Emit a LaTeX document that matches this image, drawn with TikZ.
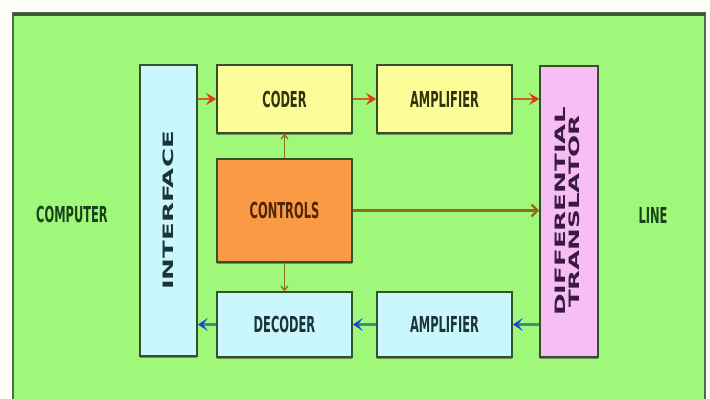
\documentclass[tikz,border=0pt]{standalone}
\usepackage{fontspec}
\setmainfont{DejaVu Sans}
\usepackage{graphicx}
\usetikzlibrary{arrows.meta, shadows}

\definecolor{pagewhite}{HTML}{FCFDF8}
\definecolor{panelgreen}{HTML}{A0F87A}
\definecolor{paneledge}{HTML}{4E6C46}
\definecolor{boxedge}{HTML}{34522A}
\definecolor{lightcyan}{HTML}{C9F7FC}
\definecolor{lightyellow}{HTML}{FCFC98}
\definecolor{ctrlorange}{HTML}{FB9A44}
\definecolor{lightpink}{HTML}{F7BDF5}
\definecolor{sidegreen}{HTML}{1A421A}
\definecolor{olivetext}{HTML}{33330E}
\definecolor{browntext}{HTML}{502604}
\definecolor{slatetext}{HTML}{1A343A}
\definecolor{purpletext}{HTML}{3A1A40}
\definecolor{fwdline}{HTML}{CC6428}
\definecolor{fwdtip}{HTML}{E8301A}
\definecolor{backline}{HTML}{3F8F86}
\definecolor{backtip}{HTML}{2040E0}
\definecolor{ctrlline}{HTML}{8C6A1E}

% squeezed text, as in the picture
\newcommand{\narrowtext}[1]{\scalebox{0.52}[1]{#1}}
\newcommand{\flattext}[1]{\scalebox{1}[0.55]{#1}}

\tikzset{
	block/.style={draw=boxedge, line width=1.8pt, inner sep=0pt,
		minimum width=135pt, minimum height=68pt,
		drop shadow={shadow xshift=0pt, shadow yshift=-2pt, fill=black!70, opacity=.6},
		font=\fontsize{22}{24}\selectfont\bfseries}
}
\tikzset{
	tallblock/.style={block, minimum width=57pt, minimum height=291pt,
		font=\fontsize{26}{22}\selectfont\bfseries}
}
\tikzset{
	sidetext/.style={font=\fontsize{22}{24}\selectfont\bfseries, text=sidegreen}
}
\tikzset{
	fwdarrow/.style={draw=fwdline, line width=2.6pt,
		-{Stealth[length=10pt, width=12pt, inset=4pt, color=fwdtip]}},
	backarrow/.style={draw=backline, line width=3.2pt,
		-{Stealth[length=10pt, width=13pt, inset=5pt, color=backtip]}},
	ctrlarrow/.style={draw=ctrlline, line width=1.3pt,
		-{Straight Barb[length=4pt, width=7pt]}}
}

\begin{document}
\begin{tikzpicture}[x=1pt, y=-1pt]
      \useasboundingbox (0,0) rectangle (710,399);
      \fill[pagewhite] (0,0) rectangle (710,399);

      % green panel, running off the bottom
      \fill[panelgreen] (13,13) rectangle (705,399);
      \draw[paneledge, line width=1.4pt] (13,399) -- (13,13) -- (705,13) -- (705,399);
      \draw[paneledge!80!black, line width=3pt] (13,14) -- (705,14);

      % blocks
      \node[tallblock, fill=lightcyan, text=slatetext] (interface) at (168.5,210.5)
        {\rotatebox{90}{\flattext{INTERFACE}}};
      \node[tallblock, fill=lightpink, text=purpletext, minimum width=58pt] (translator) at (569,211.5)
        {\rotatebox{90}{\flattext{\begin{tabular}{@{}c@{}}DIFFERENTIAL\\TRANSLATOR\end{tabular}}}};
      \node[block, fill=lightyellow, text=olivetext] (coder) at (284.5,99) {\narrowtext{CODER}};
      \node[block, fill=lightyellow, text=olivetext] (txamp) at (444.5,99) {\narrowtext{AMPLIFIER}};
      \node[block, fill=ctrlorange, text=browntext, minimum height=103pt] (controls) at (284.5,210.5)
        {\narrowtext{CONTROLS}};
      \node[block, fill=lightcyan, text=slatetext, minimum height=65pt] (decoder) at (284.5,324.5)
        {\narrowtext{DECODER}};
      \node[block, fill=lightcyan, text=slatetext, minimum height=65pt] (rxamp) at (444.5,324.5)
        {\narrowtext{AMPLIFIER}};

      % the two ends
      \node[sidetext] (computer) at (72,214) {\narrowtext{COMPUTER}};
      \node[sidetext] (line) at (653,215) {\narrowtext{LINE}};

      % sending path
      \draw[fwdarrow] (interface.east |- coder.west) -- (coder.west);
      \draw[fwdarrow] (coder.east) -- (txamp.west);
      \draw[fwdarrow] (txamp.east) -- (txamp.east -| translator.west);

      % receiving path
      \draw[backarrow] (rxamp.east -| translator.west) -- (rxamp.east);
      \draw[backarrow] (rxamp.west) -- (decoder.east);
      \draw[backarrow] (decoder.west) -- (decoder.west -| interface.east);

      % control lines
      \draw[ctrlarrow] (controls.north) -- (coder.south);
      \draw[ctrlarrow] (controls.south) -- (decoder.north);
      \draw[ctrlarrow, line width=2.2pt, -{Straight Barb[length=6pt, width=12pt]}]
        (controls.east) -- (controls.east -| translator.west);
    \end{tikzpicture}
\end{document}
